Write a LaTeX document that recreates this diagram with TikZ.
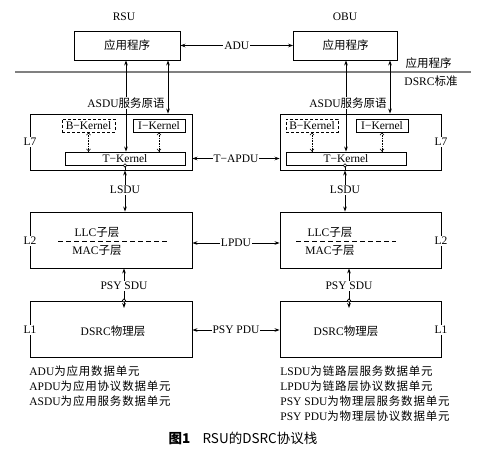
\documentclass[tikz,border=0pt]{standalone}
\usepackage{fontspec}
\setmainfont{Liberation Serif}
\newfontfamily\cjk{Noto Sans CJK SC}
\newfontfamily\cjkl[LetterSpace=7]{Noto Sans CJK SC}
\usetikzlibrary{arrows.meta}
\newcommand\zhtxt[1]{{\cjk #1}}
\newcommand\zhlg[1]{{\cjkl #1}}
\begin{document}
\begin{tikzpicture}[x=1pt,y=-1pt,
  every node/.style={font=\fontsize{11.5}{13}\selectfont, inner sep=0pt},
  box/.style={draw, line width=0.85pt, rectangle, inner sep=0pt},
  lbl/.style={fill=white, inner sep=1pt},
  tip/.style={-{Stealth[length=5pt,width=3.6pt]}},
  dbl/.style={{Stealth[length=5pt,width=3.6pt]}-{Stealth[length=5pt,width=3.6pt]}},
  dots/.style={line width=0.6pt, densely dotted, {Straight Barb[length=2.2pt,width=4pt]}-{Straight Barb[length=2.2pt,width=4pt]}},
  ring/.style={draw, circle, fill=white, minimum size=3.4pt, inner sep=0pt, line width=0.6pt},
  sub/.style={dash pattern=on 5pt off 3pt, line width=0.7pt},
  lg/.style={anchor=west},
  line width=0.85pt]
\useasboundingbox (0,0) rectangle (478,449);

% titles
\node (rsu) at (124,17) {RSU};
\node (obu) at (345,17) {OBU};

% application boxes
\node[box, minimum width=106pt, minimum height=29pt] (appL) at (127,45.5) {\zhtxt{应用程序}};
\node[box, minimum width=104pt, minimum height=29pt] (appR) at (345.5,45.5) {\zhtxt{应用程序}};
\draw[dbl] (appL.east) -- node[lbl] (adu) {ADU} (appR.west);

% boundary line
\coordinate (gl1) at (15,72);
\coordinate (gl2) at (471,72);
\draw[gray, line width=1.5pt] (gl1) -- (gl2);
\node (apptop) at (428.5,63) {\zhtxt{应用程序}};
\node (dsrcstd) at (431,81) {DSRC\zhtxt{标准}};

% L7 boxes
\node[box, minimum width=162pt, minimum height=56pt] (L7L) at (111,142) {};
\node[box, minimum width=161pt, minimum height=56pt] (L7R) at (360.5,142) {};
\node[box, dash pattern=on 3pt off 2pt, minimum width=53pt, minimum height=13pt] (BKL) at (88.5,125.5) {B−Kernel};
\node[box, minimum width=52pt, minimum height=13pt] (IKL) at (159,125.5) {I−Kernel};
\node[box, minimum width=120pt, minimum height=13pt] (TKL) at (125,158.5) {T−Kernel};
\node[box, dash pattern=on 3pt off 2pt, minimum width=52pt, minimum height=13pt] (BKR) at (312,125.5) {B−Kernel};
\node[box, minimum width=52pt, minimum height=13pt] (IKR) at (382,125.5) {I−Kernel};
\node[box, minimum width=120pt, minimum height=13pt] (TKR) at (346,158.5) {T−Kernel};
\node[lbl] (l7l) at (30,142) {L7};
\node[lbl] (l7r) at (441,142) {L7};

\draw[dots] (BKL.south) -- (BKL.south |- TKL.north);
\draw[dots] (IKL.south) -- (IKL.south |- TKL.north);
\draw[dots] (BKR.south) -- (BKR.south |- TKR.north);
\draw[dots] (IKR.south) -- (IKR.south |- TKR.north);

% ASDU primitives
\coordinate (xa) at (126,0);
\coordinate (xb) at (168,0);
\coordinate (xc) at (346,0);
\coordinate (xd) at (390,0);
\draw[dbl] (appL.south -| xa) -- (TKL.north -| xa);
\draw[dbl] (appR.south -| xc) -- (TKR.north -| xc);
\node[lbl] (asdL) at (126,103) {ASDU\zhtxt{服务原语}};
\node[lbl] (asdR) at (348,103) {ASDU\zhtxt{服务原语}};
\draw[dbl] (appL.south -| xb) -- (L7L.north -| xb);
\draw[dbl] (appR.south -| xd) -- (L7R.north -| xd);

% T-APDU
\draw[dbl] (L7L.east |- TKL.center) -- node[lbl] (tapdu) {T−APDU} (L7R.west |- TKL.center);

% L2 boxes
\node[box, minimum width=162pt, minimum height=56pt] (L2L) at (111,240) {};
\node[box, minimum width=161pt, minimum height=56pt] (L2R) at (360.5,240) {};
\node[lbl] (l2l) at (30,241) {L2};
\node[lbl] (l2r) at (441,241) {L2};
\coordinate (dl1) at (58,241); \coordinate (dl2) at (168,241);
\coordinate (dr1) at (296,241); \coordinate (dr2) at (396,241);
\draw[sub] (dl1) -- (dl2);
\draw[sub] (dr1) -- (dr2);
\node (llcL) at (97,232) {LLC\zhtxt{子层}};
\node (macL) at (97,250) {MAC\zhtxt{子层}};
\node (llcR) at (330,232) {LLC\zhtxt{子层}};
\node (macR) at (330,250) {MAC\zhtxt{子层}};

% LSDU
\draw (TKL.south) -- (L7L.south -| TKL.south);
\draw[dbl] (L7L.south -| TKL.south) -- (L2L.north -| TKL.south);
\node[ring] (rgL) at (TKL.south) {};
\node[lbl] (lsduL) at (125,190) {LSDU};
\coordinate (xe) at (345,0);
\draw (TKR.south -| xe) -- (L7R.south -| xe);
\draw[dbl] (L7R.south -| xe) -- (L2R.north -| xe);
\node[ring] (rgR) at (TKR.south -| xe) {};
\node[lbl] (lsduR) at (345,190) {LSDU};

% LPDU
\coordinate (yl) at (0,243);
\draw[dbl] (L2L.east |- yl) -- node[lbl] (lpdu) {LPDU} (L2R.west |- yl);

% L1 boxes
\node[box, minimum width=162pt, minimum height=56pt] (L1L) at (111,329) {};
\node[box, minimum width=161pt, minimum height=56pt] (L1R) at (360.5,329) {};
\node[lbl] (l1l) at (30,330) {L1};
\node[lbl] (l1r) at (441,330) {L1};
\node (phyL) at (113,331) {DSRC\zhtxt{物理层}};
\node (phyR) at (346,331) {DSRC\zhtxt{物理层}};

% PSY SDU
\coordinate (psL) at (124,308);
\coordinate (psR) at (349,308);
\draw[dbl] (L2L.south -| psL) -- (psL);
\draw[dbl] (L2R.south -| psR) -- (psR);
\node[ring] (rpL) at (L1L.north -| psL) {};
\node[ring] (rpR) at (L1R.north -| psR) {};
\node[lbl] (psdL) at (124,286) {PSY SDU};
\node[lbl] (psdR) at (349,286) {PSY SDU};

% PSY PDU
\coordinate (yp) at (0,330);
\draw[dbl] (L1L.east |- yp) -- node[lbl] (ppdu) {PSY PDU} (L1R.west |- yp);

% legend
\node[lg] (lg1) at (29,371) {ADU\zhlg{为应用数据单元}};
\node[lg] (lg2) at (29,386) {APDU\zhlg{为应用协议数据单元}};
\node[lg] (lg3) at (29,401) {ASDU\zhlg{为应用服务数据单元}};
\node[lg] (lg4) at (280,371) {LSDU\zhlg{为链路层服务数据单元}};
\node[lg] (lg5) at (280,386) {LPDU\zhlg{为链路层协议数据单元}};
\node[lg] (lg6) at (280,401) {PSY SDU\zhlg{为物理层服务数据单元}};
\node[lg] (lg7) at (280,416) {PSY PDU\zhlg{为物理层协议数据单元}};

% caption
\node (cap) at (243,438) {\fontsize{13.5}{15}\selectfont{\cjk\bfseries 图1}\hspace{0.9em}{\cjk RSU的DSRC协议栈}};
\end{tikzpicture}
\end{document}
